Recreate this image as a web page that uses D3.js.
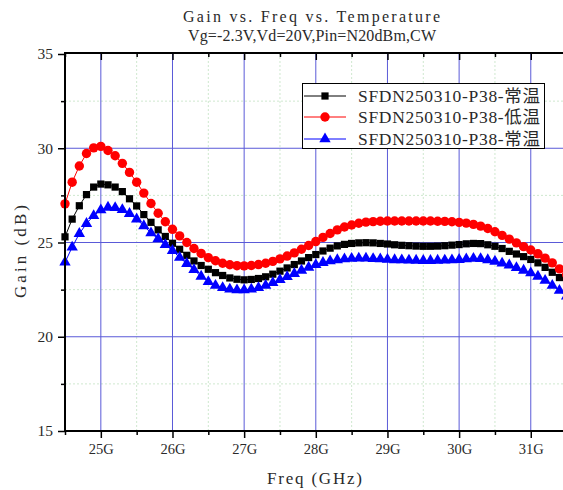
<!DOCTYPE html>
<html>
<head>
<meta charset="utf-8">
<script src="https://cdn.jsdelivr.net/npm/d3@7"></script>
<style>
  html, body { margin: 0; padding: 0; background: #fff; overflow: hidden; }
  svg { display: block; }
</style>
</head>
<body>
<svg id="chart" width="563" height="490"></svg>
<script>
// Frequency sweep (GHz), 0.1 GHz step
const freqs = d3.range(71).map(i => +(24.5 + i * 0.1).toFixed(1));

// Gain (dB) per temperature
const gainRoom = [
  25.30, 26.24, 26.95, 27.54, 27.94, 28.10, 28.06, 27.94, 27.70, 27.32,
  26.94, 26.48, 26.07, 25.67, 25.32, 24.96, 24.64, 24.32, 24.02, 23.78,
  23.58, 23.40, 23.25, 23.12, 23.05, 23.02, 23.04, 23.09, 23.18, 23.32,
  23.48, 23.65, 23.83, 24.02, 24.20, 24.36, 24.55, 24.70, 24.82, 24.90,
  24.95, 24.98, 24.99, 24.98, 24.95, 24.92, 24.88, 24.85, 24.83, 24.81,
  24.80, 24.80, 24.81, 24.83, 24.86, 24.89, 24.93, 24.95, 24.94, 24.88,
  24.80, 24.68, 24.53, 24.39, 24.25, 24.10, 23.92, 23.68, 23.42, 23.14,
  22.85
];
const gainLow = [
  27.05, 28.20, 29.06, 29.72, 30.02, 30.10, 29.88, 29.60, 29.20, 28.72,
  28.20, 27.62, 27.07, 26.55, 26.10, 25.70, 25.35, 25.00, 24.68, 24.42,
  24.20, 24.03, 23.90, 23.82, 23.77, 23.76, 23.78, 23.83, 23.90, 24.00,
  24.13, 24.28, 24.45, 24.64, 24.84, 25.05, 25.27, 25.48, 25.67, 25.82,
  25.93, 26.02, 26.08, 26.11, 26.13, 26.14, 26.14, 26.14, 26.14, 26.14,
  26.14, 26.14, 26.13, 26.12, 26.10, 26.07, 26.03, 25.96, 25.87, 25.74,
  25.57, 25.38, 25.18, 24.98, 24.78, 24.60, 24.40, 24.17, 23.92, 23.60,
  23.30
];
const gainRoom2 = [
  23.95, 24.75, 25.47, 26.00, 26.42, 26.72, 26.86, 26.84, 26.74, 26.53,
  26.24, 25.88, 25.50, 25.20, 24.88, 24.57, 24.20, 23.88, 23.55, 23.20,
  22.92, 22.72, 22.60, 22.52, 22.48, 22.48, 22.52, 22.60, 22.72, 22.86,
  23.02, 23.18, 23.35, 23.52, 23.68, 23.82, 23.93, 24.02, 24.08, 24.12,
  24.15, 24.16, 24.16, 24.14, 24.12, 24.10, 24.08, 24.07, 24.06, 24.05,
  24.04, 24.04, 24.05, 24.06, 24.07, 24.09, 24.12, 24.15, 24.14, 24.08,
  24.00, 23.90, 23.80, 23.66, 23.52, 23.38, 23.20, 22.98, 22.72, 22.45,
  22.15
];

const seriesNames = ["SFDN250310-P38-常温", "SFDN250310-P38-低温", "SFDN250310-P38-常温"];
const seriesColors = ["#000000", "#ff0000", "#0000ff"];
const seriesMarkers = ["square", "circle", "triangle"];
const seriesValues = [gainRoom, gainLow, gainRoom2];

const xTicks = [25, 26, 27, 28, 29, 30, 31];
const xTickLabels = ["25G", "26G", "27G", "28G", "29G", "30G", "31G"];
const xMinorTicks = [24.5, 25.5, 26.5, 27.5, 28.5, 29.5, 30.5, 31.5];
const yTicks = [15, 20, 25, 30, 35];
const yMinorTicks = [17.5, 22.5, 27.5, 32.5];

const titleLines = ["Gain vs. Freq vs. Temperature", "Vg=-2.3V,Vd=20V,Pin=N20dBm,CW"];
const xTitle = "Freq (GHz)";
const yTitle = "Gain (dB)";

const FONT = "'Liberation Serif', 'Noto Sans CJK SC', serif";
const TEXT_COLOR = "#2a2a2a";

const svg = d3.select("#chart");
const plotL = 65, plotT = 53, plotB = 431, plotR = 566.6;

const x = d3.scaleLinear().domain([24.5, 31.5]).range([plotL, plotR]);
const y = d3.scaleLinear().domain([15, 35]).range([plotB, plotT + 1]);

// plot background
svg.append("rect").attr("x", plotL).attr("y", plotT)
  .attr("width", plotR - plotL).attr("height", plotB - plotT).attr("fill", "#fff");

// minor grid (dotted, light green)
const grid = svg.append("g");
grid.selectAll("line.mx").data(xMinorTicks).join("line")
  .attr("x1", d => x(d)).attr("x2", d => x(d)).attr("y1", plotT).attr("y2", plotB)
  .attr("stroke", "#cfe8cf").attr("stroke-width", 1).attr("stroke-dasharray", "2,2");
grid.selectAll("line.my").data(yMinorTicks).join("line")
  .attr("x1", plotL).attr("x2", plotR).attr("y1", d => y(d)).attr("y2", d => y(d))
  .attr("stroke", "#cfe8cf").attr("stroke-width", 1).attr("stroke-dasharray", "2,2");

// major grid (blue)
grid.selectAll("line.gx").data(xTicks).join("line")
  .attr("x1", d => x(d)).attr("x2", d => x(d)).attr("y1", plotT).attr("y2", plotB)
  .attr("stroke", "#5a5ad8").attr("stroke-width", 1);
grid.selectAll("line.gy").data(yTicks.slice(1, -1)).join("line")
  .attr("x1", plotL).attr("x2", plotR).attr("y1", d => y(d)).attr("y2", d => y(d))
  .attr("stroke", "#5a5ad8").attr("stroke-width", 1);

// series
const line = d3.line().x((d, i) => x(freqs[i])).y(d => y(d));
const sqSym = d3.symbol().type(d3.symbolSquare).size(52);
const triSym = d3.symbol().type(d3.symbolTriangle).size(56);

function drawMarker(g, kind, color, cx, cy) {
  if (kind === "circle") {
    g.append("circle").attr("cx", cx).attr("cy", cy).attr("r", 4.7).attr("fill", color);
  } else if (kind === "square") {
    g.append("path").attr("d", sqSym()).attr("transform", `translate(${cx},${cy})`).attr("fill", color);
  } else {
    g.append("path").attr("d", triSym()).attr("transform", `translate(${cx},${cy})`).attr("fill", color);
  }
}

seriesValues.forEach((vals, si) => {
  const g = svg.append("g");
  g.append("path").datum(vals).attr("d", line)
    .attr("fill", "none").attr("stroke", seriesColors[si]).attr("stroke-width", 1);
  vals.forEach((v, i) => drawMarker(g, seriesMarkers[si], seriesColors[si], x(freqs[i]), y(v)));
});

// axes
const axisG = svg.append("g");
const bottomAxis = d3.axisBottom(x).tickValues(xTicks)
  .tickFormat((d, i) => xTickLabels[i]).tickSize(7).tickPadding(6);
const gx = axisG.append("g").attr("transform", `translate(0,${plotB})`).call(bottomAxis);
gx.select(".domain").remove();
gx.selectAll(".tick line").attr("stroke", "#000").attr("stroke-width", 1.5);
gx.selectAll(".tick text").attr("font-family", FONT).attr("font-size", 14.5).attr("fill", TEXT_COLOR);
axisG.append("g").attr("transform", `translate(0,${plotB})`)
  .call(d3.axisBottom(x).tickValues(xMinorTicks).tickSize(4).tickFormat(""))
  .call(g => g.select(".domain").remove())
  .selectAll(".tick line").attr("stroke", "#000").attr("stroke-width", 1.5);

const leftAxis = d3.axisLeft(y).tickValues(yTicks).tickSize(7).tickPadding(5);
const gy = axisG.append("g").attr("transform", `translate(${plotL},0)`).call(leftAxis);
gy.select(".domain").remove();
gy.selectAll(".tick line").attr("stroke", "#000").attr("stroke-width", 1.5);
gy.selectAll(".tick text").attr("font-family", FONT).attr("font-size", 15.5).attr("fill", TEXT_COLOR);
axisG.append("g").attr("transform", `translate(${plotL},0)`)
  .call(d3.axisLeft(y).tickValues(yMinorTicks).tickSize(4).tickFormat(""))
  .call(g => g.select(".domain").remove())
  .selectAll(".tick line").attr("stroke", "#000").attr("stroke-width", 1.5);

// top axis ticks (inward)
axisG.append("g").attr("transform", `translate(0,${plotT})`)
  .call(d3.axisBottom(x).tickValues(xTicks).tickSize(7).tickFormat(""))
  .call(g => g.select(".domain").remove())
  .selectAll(".tick line").attr("stroke", "#000").attr("stroke-width", 1.5);
axisG.append("g").attr("transform", `translate(0,${plotT})`)
  .call(d3.axisBottom(x).tickValues(xMinorTicks).tickSize(4).tickFormat(""))
  .call(g => g.select(".domain").remove())
  .selectAll(".tick line").attr("stroke", "#000").attr("stroke-width", 1.5);

// frame
axisG.append("line").attr("x1", plotL).attr("x2", plotR).attr("y1", plotB).attr("y2", plotB)
  .attr("stroke", "#000").attr("stroke-width", 2);
axisG.append("line").attr("x1", plotL).attr("x2", plotR).attr("y1", plotT).attr("y2", plotT)
  .attr("stroke", "#000").attr("stroke-width", 2);
axisG.append("line").attr("x1", plotL).attr("x2", plotL).attr("y1", plotT - 1).attr("y2", plotB + 1)
  .attr("stroke", "#000").attr("stroke-width", 2);

// titles
function addText(xp, yp, str, size, len) {
  return svg.append("text").attr("x", xp).attr("y", yp).attr("text-anchor", "middle")
    .attr("font-family", FONT).attr("font-size", size).attr("fill", TEXT_COLOR)
    .attr("textLength", len).attr("lengthAdjust", "spacing").text(str);
}
addText(311.5, 22, titleLines[0], 16, 257);
addText(312, 41, titleLines[1], 16, 248);
addText(314.5, 484, xTitle, 17, 95);
svg.append("text").attr("transform", "translate(26,251.5) rotate(-90)").attr("text-anchor", "middle")
  .attr("font-family", FONT).attr("font-size", 17).attr("fill", TEXT_COLOR)
  .attr("textLength", 93).attr("lengthAdjust", "spacing").text(yTitle);

// legend
const lg = svg.append("g");
lg.append("rect").attr("x", 302.5).attr("y", 83.5).attr("width", 242).attr("height", 65)
  .attr("fill", "#fff").attr("stroke", "#000").attr("stroke-width", 1);
const legendY = [96, 117, 139];
seriesNames.forEach((name, i) => {
  const cy = legendY[i];
  lg.append("line").attr("x1", 304).attr("x2", 346).attr("y1", cy).attr("y2", cy)
    .attr("stroke", seriesColors[i]).attr("stroke-width", 1);
  drawMarker(lg, seriesMarkers[i], seriesColors[i], 325, cy);
  lg.append("text").attr("x", 358).attr("y", cy + 6)
    .attr("font-family", FONT).attr("font-size", 17.5).attr("fill", TEXT_COLOR)
    .attr("textLength", 182).attr("lengthAdjust", "spacing").text(name);
});
</script>
</body>
</html>
